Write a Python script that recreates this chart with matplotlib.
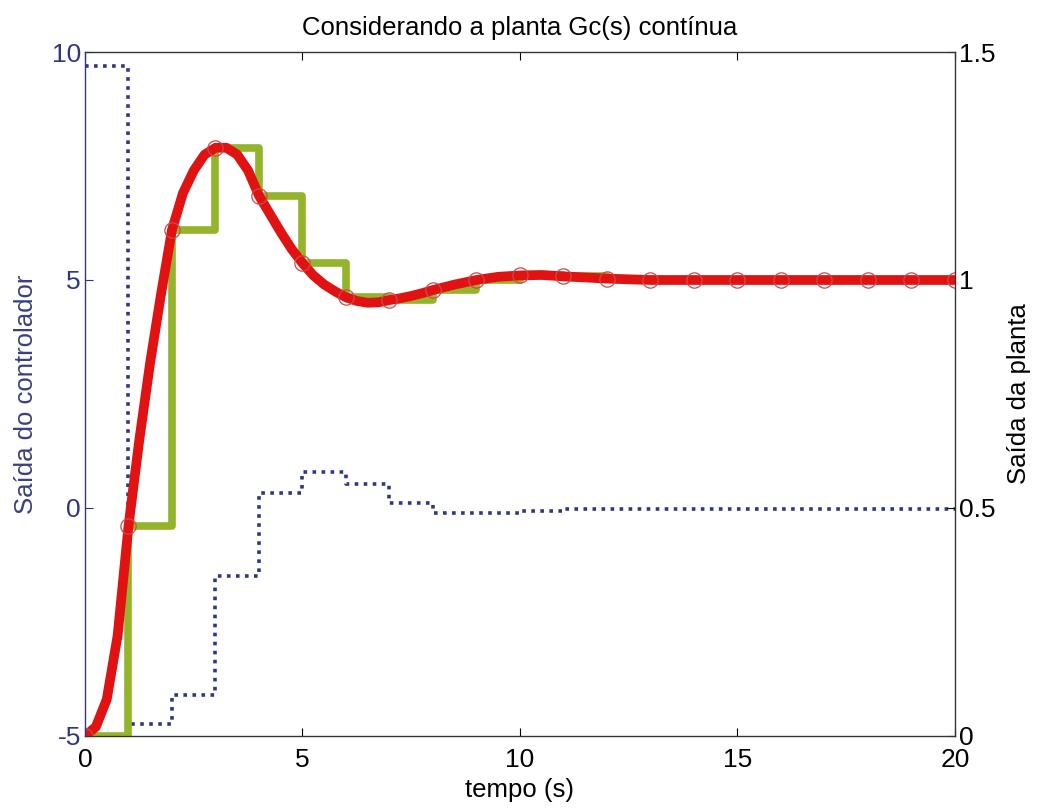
import matplotlib
matplotlib.use("Agg")
import matplotlib.pyplot as plt

plt.rcParams["font.family"] = ["Liberation Sans", "DejaVu Sans"]
plt.rcParams["axes.unicode_minus"] = False

# controller output (left axis), held over each 1 s sample
t_k = [0, 1, 2, 3, 4, 5, 6, 7, 8, 9, 10, 11, 12, 13, 14, 15, 16, 17, 18, 19, 20]
u_k = [9.7, -4.73, -4.1, -1.5, 0.33, 0.78, 0.52, 0.1, -0.1, -0.1, -0.06,
       -0.02, -0.02, -0.02, -0.02, -0.02, -0.02, -0.02, -0.02, -0.02, -0.02]

# sampled plant output (right axis), zero-order hold
y_k = [0.0, 0.46, 1.11, 1.29, 1.185, 1.037, 0.962, 0.956, 0.978, 1.0, 1.01,
       1.008, 1.003, 1.0, 1.0, 1.0, 1.0, 1.0, 1.0, 1.0, 1.0]

# continuous plant output (right axis)
t_c = [0, 0.25, 0.5, 0.75, 1.0, 1.25, 1.5, 1.75, 2.0, 2.25, 2.5, 2.75, 3.0,
       3.25, 3.5, 3.75, 4.0, 4.25, 4.5, 4.75, 5.0, 5.25, 5.5, 5.75, 6.0,
       6.25, 6.5, 6.75, 7.0, 7.25, 7.5, 7.75, 8.0, 8.5, 9.0, 9.5, 10.0,
       10.5, 11.0, 12.0, 13.0, 14.0, 15.0, 16.0, 17.0, 18.0, 19.0, 20.0]
y_c = [0.0, 0.02, 0.08, 0.22, 0.46, 0.65, 0.82, 0.97, 1.11, 1.19, 1.24,
       1.275, 1.29, 1.29, 1.275, 1.24, 1.185, 1.145, 1.105, 1.068, 1.037,
       1.01, 0.99, 0.975, 0.962, 0.954, 0.95, 0.951, 0.956, 0.96, 0.965,
       0.971, 0.978, 0.99, 1.0, 1.007, 1.01, 1.011, 1.008, 1.003, 1.0, 1.0,
       1.0, 1.0, 1.0, 1.0, 1.0, 1.0]

NAVY = "#2f3684"
GREEN = "#94b42c"
RED = "#e01212"

fig = plt.figure(figsize=(10.44, 8.10), dpi=100)
ax1 = fig.add_axes([0.0814, 0.0914, 0.8333, 0.8444])
ax2 = ax1.twinx()

ax1.plot(t_k, u_k, drawstyle="steps-post", color=NAVY,
         linestyle=(0, (1, 1.5)), linewidth=2.6)
ax2.plot(t_k, y_k, drawstyle="steps-post", color=GREEN, linewidth=5.5)
ax2.plot(t_c, y_c, color=RED, linewidth=7, solid_capstyle="round",
         solid_joinstyle="round")
ax2.plot(t_k, y_k, linestyle="none", marker="o", markersize=11,
         markerfacecolor="none", markeredgecolor="#d24848",
         markeredgewidth=0.9)

ax1.set_xlim(0, 20)
ax1.set_ylim(-5, 10)
ax2.set_ylim(0, 1.5)
ax1.set_xticks([0, 5, 10, 15, 20])
ax1.set_yticks([-5, 0, 5, 10])
ax2.set_yticks([0, 0.5, 1, 1.5])
ax2.set_yticklabels(["0", "0.5", "1", "1.5"])

ax1.tick_params(axis="both", direction="in", length=6, labelsize=19,
                top=True)
ax1.tick_params(axis="y", colors=NAVY, labelcolor=NAVY, pad=3)
ax2.tick_params(axis="y", direction="in", length=6, labelsize=19, pad=3)
ax1.tick_params(axis="x", pad=9)

for sp in ax2.spines.values():
    sp.set_color("#333333")
    sp.set_linewidth(0.9)
ax2.spines["left"].set_color(NAVY)

ax1.set_xlabel("tempo (s)", fontsize=18.5, labelpad=4)
ax1.set_ylabel("Saída do controlador", fontsize=18.5, color="#3a3f80",
               labelpad=10)
ax2.set_ylabel("Saída da planta", fontsize=18.5, labelpad=8)
ax1.set_title("Considerando a planta Gc(s) contínua", fontsize=18.5, pad=12)

fig.savefig("out.png", dpi=100)
